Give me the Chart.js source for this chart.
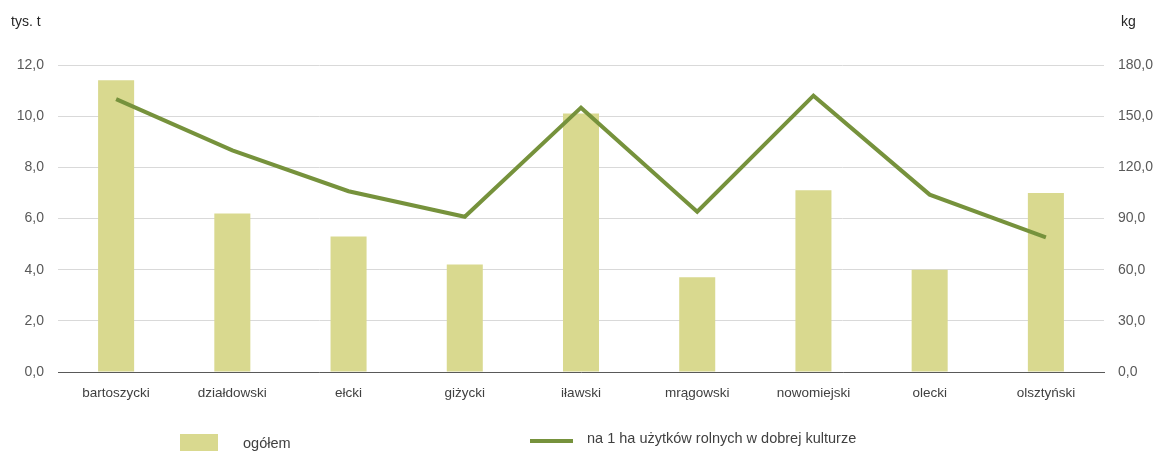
<!DOCTYPE html>
<html>
<head>
<meta charset="utf-8">
<script src="https://cdn.jsdelivr.net/npm/chart.js@4.4.1/dist/chart.umd.min.js"></script>
<style>
  html, body { margin: 0; padding: 0; background: #ffffff; }
  #wrap { position: relative; width: 1155px; height: 451px; font-family: "Liberation Sans", Arial, sans-serif; }
  canvas { position: absolute; left: 0; top: 0; }
  .ttl { position: absolute; font-size: 14px; color: #262626; }
  .leg { position: absolute; font-size: 14.5px; color: #404040; }
  .sw { position: absolute; }
</style>
</head>
<body>
<div id="wrap">
  <canvas id="c" width="1155" height="451"></canvas>
  <div class="ttl" style="left:11px; top:13px;">tys. t</div>
  <div class="ttl" style="left:1121px; top:13px;">kg</div>
  <div class="sw" style="left:180px; top:434px; width:38px; height:17px; background:#D9D98F;"></div>
  <div class="leg" style="left:243px; top:435px;">ogółem</div>
  <div class="sw" style="left:530px; top:439px; width:43px; height:4px; background:#76923C;"></div>
  <div class="leg" style="left:587px; top:430px;">na 1 ha użytków rolnych w dobrej kulturze</div>
</div>
<script>
const categories = ["bartoszycki", "działdowski", "ełcki", "giżycki", "iławski", "mrągowski", "nowomiejski", "olecki", "olsztyński"];
const totalValues = [11.4, 6.2, 5.3, 4.2, 10.1, 3.7, 7.1, 4.0, 7.0];
const perHaValues = [160, 130, 106, 91, 155, 94, 162, 104, 79];
const leftTicks = [0, 2, 4, 6, 8, 10, 12];
const rightTicks = [0, 30, 60, 90, 120, 150, 180];
const seriesNames = ["ogółem", "na 1 ha użytków rolnych w dobrej kulturze"];

const fmt = v => v.toFixed(1).replace('.', ',');

new Chart(document.getElementById('c'), {
  data: {
    labels: categories,
    datasets: [
      {
        type: 'line',
        label: seriesNames[1],
        data: perHaValues,
        yAxisID: 'y1',
        borderColor: '#76923C',
        backgroundColor: '#76923C',
        borderWidth: 4,
        pointRadius: 0,
        tension: 0,
        order: 0
      },
      {
        type: 'bar',
        label: seriesNames[0],
        data: totalValues,
        yAxisID: 'y',
        backgroundColor: '#D9D98F',
        barPercentage: 0.31,
        categoryPercentage: 1.0,
        order: 1
      }
    ]
  },
  options: {
    responsive: false,
    animation: false,
    layout: { padding: { top: 65, left: 0, right: 0, bottom: 0 } },
    plugins: { legend: { display: false }, tooltip: { enabled: false } },
    scales: {
      x: {
        grid: { display: false, drawTicks: false },
        border: { display: true, color: '#595959', width: 1 },
        ticks: { color: '#404040', font: { family: 'Liberation Sans', size: 13.5 }, padding: 13, maxRotation: 0 },
        afterFit: s => { s.height = 79; }
      },
      y: {
        position: 'left',
        min: 0, max: 12,
        afterBuildTicks: s => { s.ticks = leftTicks.map(v => ({ value: v })); },
        grid: { color: '#D9D9D9', drawTicks: false },
        border: { display: false },
        ticks: { color: '#595959', font: { family: 'Liberation Sans', size: 14 }, padding: 14, callback: v => fmt(v) },
        afterFit: s => { s.width = 58; }
      },
      y1: {
        position: 'right',
        min: 0, max: 180,
        afterBuildTicks: s => { s.ticks = rightTicks.map(v => ({ value: v })); },
        grid: { display: false, drawTicks: false },
        border: { display: false },
        ticks: { color: '#595959', font: { family: 'Liberation Sans', size: 14 }, padding: 14, callback: v => fmt(v) },
        afterFit: s => { s.width = 51; }
      }
    }
  }
});
</script>
</body>
</html>
